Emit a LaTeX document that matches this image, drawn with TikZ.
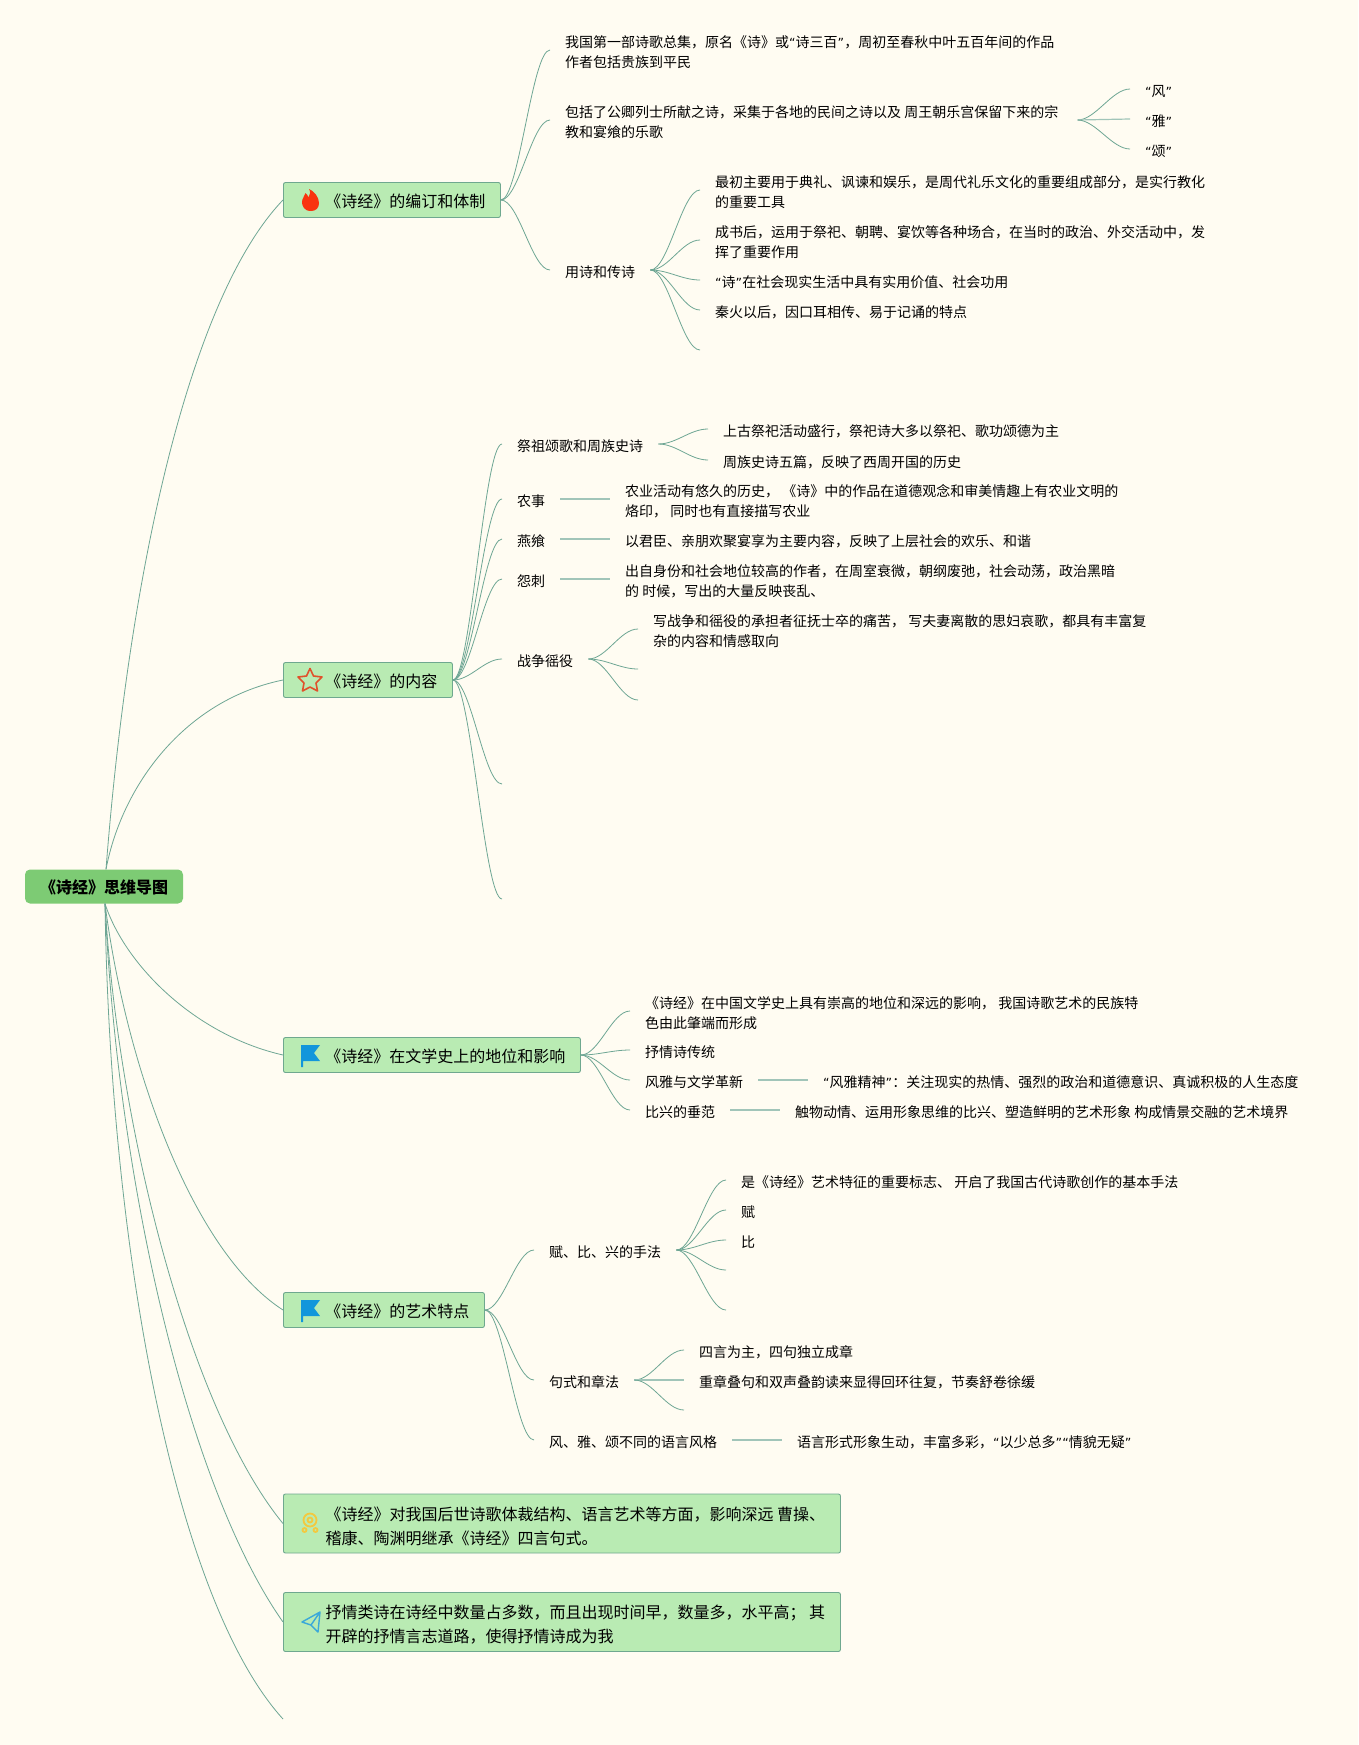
\documentclass[tikz,border=0pt]{standalone}
\usepackage{fontspec}
\setmainfont{Noto Sans CJK SC}
\newfontfamily\quotefont[Scale=0.9]{DejaVu Sans}
\newcommand{\oq}{{\quotefont “}}
\newcommand{\cq}{{\quotefont ”}}
\definecolor{paper}{HTML}{FFFCF2}
\definecolor{boxfill}{HTML}{B9EBB3}
\definecolor{boxline}{HTML}{6FA88F}
\definecolor{rootfill}{HTML}{7DCB74}
\definecolor{linkcolor}{HTML}{6EA694}
\definecolor{flagblue}{HTML}{1296DB}
\definecolor{firered}{HTML}{F9330F}
\definecolor{starred}{HTML}{E0512B}
\definecolor{medalgold}{HTML}{F3C93F}
\definecolor{planeblue}{HTML}{3BA9D9}
\tikzset{
  link/.style={draw=linkcolor,line width=0.8pt},
  plainlink/.style={draw=linkcolor!65,line width=1.2pt},
  branch/.style={to path={.. controls +(18,0) and +(-18,0) .. (\tikztotarget)}},
  leaf/.style={anchor=west,inner xsep=15pt,inner ysep=0pt,align=left,text height=15pt,text depth=0pt,font=\fontsize{14}{20}\selectfont},
  twoline/.style={leaf,text height=35pt},
  topic/.style={anchor=west,draw=boxline,fill=boxfill,line width=0.9pt,rounded corners=2pt,inner xsep=15pt,inner ysep=0pt,minimum height=35pt,text height=14pt,text depth=0pt,font=\fontsize{16}{24}\selectfont},
  wide/.style={anchor=west,draw=boxline,fill=boxfill,line width=0.9pt,rounded corners=2pt,inner xsep=15pt,inner ysep=0pt,align=left,minimum width=557pt,minimum height=59pt,text height=41pt,text depth=0pt,font=\fontsize{16}{24}\selectfont},
  flagicon/.pic={
    \fill[color=flagblue] (-9.5,-10) -- (9.5,-10) -- (3.5,-2) -- (9.5,6) -- (-7.5,6) -- (-7.5,12) -- (-9.5,12) -- cycle;
  },
}
\begin{document}
\begin{tikzpicture}[x=1pt,y=-1pt]
\path[fill=paper] (0,0) rectangle (1358,1745);

\node[fill=rootfill,rounded corners=5pt,minimum width=158pt,minimum height=34pt,inner sep=0pt,text height=14pt,text depth=0pt,font=\fontsize{16}{24}\selectfont\bfseries] (root) at (104,886.5) {《诗经》思维导图};

\node[topic] (edit) at (283,200) {\hspace*{27pt}《诗经》的编订和体制};
\node[topic] (content) at (283,680) {\hspace*{27pt}《诗经》的内容};
\node[topic] (status) at (283,1055) {\hspace*{27pt}《诗经》在文学史上的地位和影响};
\node[topic] (art) at (283,1310) {\hspace*{27pt}《诗经》的艺术特点};
\node[wide] (later) at (283,1523.5) {\hspace*{27pt}《诗经》对我国后世诗歌体裁结构、语言艺术等方面，影响深远 曹操、\\\hspace*{27pt}稽康、陶渊明继承《诗经》四言句式。};
\node[wide] (lyric) at (283,1622) {\hspace*{27pt}抒情类诗在诗经中数量占多数，而且出现时间早，数量多，水平高； 其\\\hspace*{27pt}开辟的抒情言志道路，使得抒情诗成为我};
\coordinate (rootend) at (283,1719);

% root links
\path[link] ([xshift=2pt]root.north) .. controls (130,560) and (192,295) .. (edit.west);
\path[link] ([xshift=2pt]root.north) .. controls (122,785) and (185,700) .. (content.west);
\path[link] ([xshift=1pt]root.south) .. controls (125,965) and (195,1035) .. (status.west);
\path[link] ([xshift=1pt]root.south) .. controls (125,1060) and (190,1250) .. (art.west);
\path[link] ([xshift=1pt]root.south) .. controls (118,1130) and (190,1410) .. (later.west);
\path[link] ([xshift=1pt]root.south) .. controls (118,1190) and (190,1490) .. (lyric.west);
\path[link] ([xshift=1pt]root.south) .. controls (110,1250) and (175,1600) .. (rootend);

% first topic
\node[twoline] (e1) at (550,50) {我国第一部诗歌总集，原名《诗》或\oq 诗三百\cq ，周初至春秋中叶五百年间的作品\\作者包括贵族到平民};
\node[twoline] (e2) at (550,120) {包括了公卿列士所献之诗，采集于各地的民间之诗以及 周王朝乐宫保留下来的宗\\教和宴飨的乐歌};
\node[leaf] (e3) at (550,270) {用诗和传诗};
\node[leaf] (e21) at (1130,89) {\oq 风\cq};
\node[leaf] (e22) at (1130,119) {\oq 雅\cq};
\node[leaf] (e23) at (1130,149) {\oq 颂\cq};
\node[twoline] (e31) at (700,190) {最初主要用于典礼、讽谏和娱乐，是周代礼乐文化的重要组成部分，是实行教化\\的重要工具};
\node[twoline] (e32) at (700,240) {成书后，运用于祭祀、朝聘、宴饮等各种场合，在当时的政治、外交活动中，发\\挥了重要作用};
\node[leaf] (e33) at (700,280) {\oq 诗\cq 在社会现实生活中具有实用价值、社会功用};
\node[leaf] (e34) at (700,310) {秦火以后，因口耳相传、易于记诵的特点};
\coordinate (e35) at (700,350);

\path[link] (edit.east) to[branch] (e1.west);
\path[link] (edit.east) to[branch] (e2.west);
\path[link] (edit.east) to[branch] (e3.west);
\path[link] ([xshift=4pt]e2.east) to[branch] (e21.west);
\path[plainlink] ([xshift=4pt]e2.east) -- (e22.west);
\path[link] ([xshift=4pt]e2.east) to[branch] (e23.west);
\path[link] (e3.east) to[branch] (e31.west);
\path[link] (e3.east) to[branch] (e32.west);
\path[link] (e3.east) to[branch] (e33.west);
\path[link] (e3.east) to[branch] (e34.west);
\path[link] (e3.east) to[branch] (e35);

% second topic
\node[leaf] (c1) at (502,444) {祭祖颂歌和周族史诗};
\node[leaf] (c2) at (502,499) {农事};
\node[leaf] (c3) at (502,539) {燕飨};
\node[leaf] (c4) at (502,579) {怨刺};
\node[leaf] (c5) at (502,659) {战争徭役};
\coordinate (c6) at (502,784);
\coordinate (c7) at (502,899);
\node[leaf] (c11) at (708,429) {上古祭祀活动盛行，祭祀诗大多以祭祀、歌功颂德为主};
\node[leaf] (c12) at (708,460) {周族史诗五篇，反映了西周开国的历史};
\node[twoline] (c21) at (610,499) {农业活动有悠久的历史， 《诗》中的作品在道德观念和审美情趣上有农业文明的\\烙印， 同时也有直接描写农业};
\node[leaf] (c31) at (610,539) {以君臣、亲朋欢聚宴享为主要内容，反映了上层社会的欢乐、和谐};
\node[twoline] (c41) at (610,579) {出自身份和社会地位较高的作者，在周室衰微，朝纲废弛，社会动荡，政治黑暗\\的 时候，写出的大量反映丧乱、};
\node[twoline] (c51) at (638,629) {写战争和徭役的承担者征抚士卒的痛苦， 写夫妻离散的思妇哀歌，都具有丰富复\\杂的内容和情感取向};
\coordinate (c52) at (638,669);
\coordinate (c53) at (638,700);

\path[link] (content.east) to[branch] (c1.west);
\path[link] (content.east) to[branch] (c2.west);
\path[link] (content.east) to[branch] (c3.west);
\path[link] (content.east) to[branch] (c4.west);
\path[link] (content.east) to[branch] (c5.west);
\path[link] (content.east) to[branch] (c6);
\path[link] (content.east) to[branch] (c7);
\path[link] (c1.east) to[branch] (c11.west);
\path[link] (c1.east) to[branch] (c12.west);
\path[plainlink] (c2.east) -- (c21.west);
\path[plainlink] (c3.east) -- (c31.west);
\path[plainlink] (c4.east) -- (c41.west);
\path[link] (c5.east) to[branch] (c51.west);
\path[link] (c5.east) to[branch] (c52);
\path[link] (c5.east) to[branch] (c53);

% third topic
\node[twoline] (s1) at (630,1011) {《诗经》在中国文学史上具有崇高的地位和深远的影响， 我国诗歌艺术的民族特\\色由此肇端而形成};
\node[leaf] (s2) at (630,1050) {抒情诗传统};
\node[leaf] (s3) at (630,1080) {风雅与文学革新};
\node[leaf] (s4) at (630,1110) {比兴的垂范};
\node[leaf] (s31) at (808,1080) {\oq 风雅精神\cq ：关注现实的热情、强烈的政治和道德意识、真诚积极的人生态度};
\node[leaf] (s41) at (780,1110) {触物动情、运用形象思维的比兴、塑造鲜明的艺术形象 构成情景交融的艺术境界};

\path[link] (status.east) to[branch] (s1.west);
\path[link] (status.east) to[branch] (s2.west);
\path[link] (status.east) to[branch] (s3.west);
\path[link] (status.east) to[branch] (s4.west);
\path[plainlink] (s3.east) -- (s31.west);
\path[plainlink] (s4.east) -- (s41.west);

% fourth topic
\node[leaf] (a1) at (534,1250) {赋、比、兴的手法};
\node[leaf] (a2) at (534,1380) {句式和章法};
\node[leaf] (a3) at (534,1440) {风、雅、颂不同的语言风格};
\node[leaf] (a11) at (726,1180) {是《诗经》艺术特征的重要标志、 开启了我国古代诗歌创作的基本手法};
\node[leaf] (a12) at (726,1210) {赋};
\node[leaf] (a13) at (726,1240) {比};
\coordinate (a14) at (726,1270);
\coordinate (a15) at (726,1310);
\node[leaf] (a21) at (684,1350) {四言为主，四句独立成章};
\node[leaf] (a22) at (684,1380) {重章叠句和双声叠韵读来显得回环往复，节奏舒卷徐缓};
\coordinate (a23) at (684,1410);
\node[leaf] (a31) at (782,1440) {语言形式形象生动，丰富多彩，\oq 以少总多\cq\oq 情貌无疑\cq};

\path[link] (art.east) to[branch] (a1.west);
\path[link] (art.east) to[branch] (a2.west);
\path[link] (art.east) to[branch] (a3.west);
\path[link] (a1.east) to[branch] (a11.west);
\path[link] (a1.east) to[branch] (a12.west);
\path[link] (a1.east) to[branch] (a13.west);
\path[link] (a1.east) to[branch] (a14);
\path[link] (a1.east) to[branch] (a15);
\path[link] (a2.east) to[branch] (a21.west);
\path[plainlink] (a2.east) -- (a22.west);
\path[link] (a2.east) to[branch] (a23);
\path[plainlink] (a3.east) -- (a31.west);

% icons
\fill[color=firered] (311,211) .. controls (304,211) and (302,206) .. (302,202) .. controls (302,198) and (305,196) .. (305.5,193) .. controls (307,194) and (308,196) .. (308.5,197.5) .. controls (310.5,195) and (310.5,191) .. (309,189) .. controls (314,191) and (319,197) .. (319,203) .. controls (319,208) and (316,211) .. (311,211) -- cycle;
\draw[color=starred,line width=1.6pt,line join=round] (310,668.5) -- (313.5,676) -- (322,677) -- (316,683) -- (317.5,691) -- (310,687) -- (302.5,691) -- (304,683) -- (298,677) -- (306.5,676) -- cycle;
\path (310.5,1055) pic {flagicon};
\path (310.5,1310) pic {flagicon};
\draw[color=medalgold,line width=1.8pt] (310,1520) circle (6.5pt) (310,1520) circle (2.5pt) (304.5,1530) circle (2pt) (315.5,1530) circle (2pt);
\draw[color=planeblue,line width=1.4pt,line join=round] (320,1612) -- (302,1622) -- (311,1625) -- (318,1632) -- cycle (320,1612) -- (311,1625);
\end{tikzpicture}
\end{document}
